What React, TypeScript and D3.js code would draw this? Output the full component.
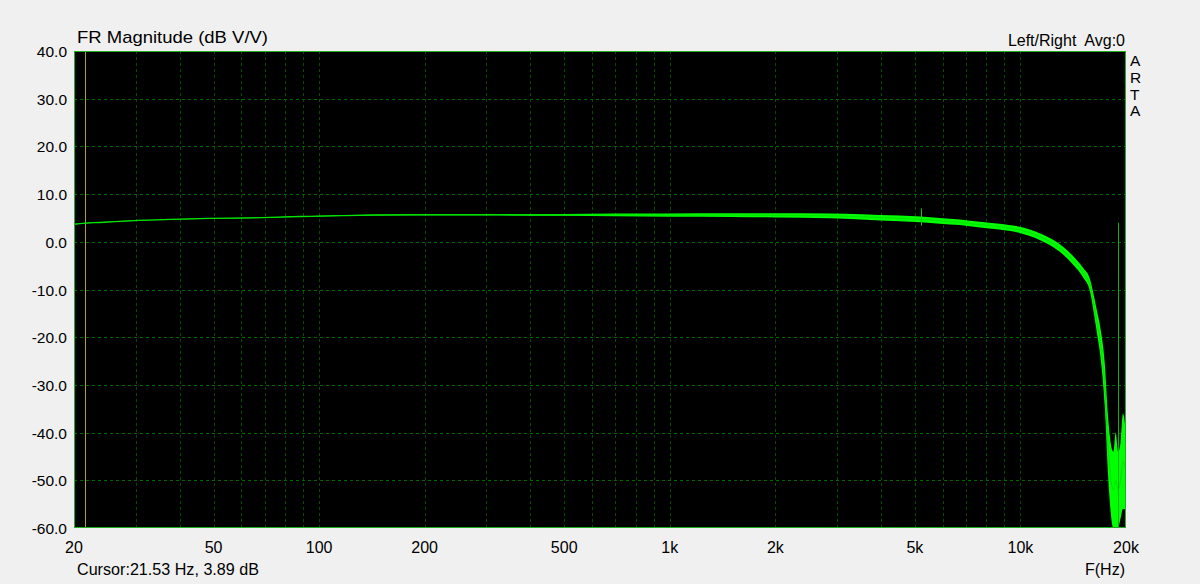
import React from "react";
import * as d3 from "d3";

const freqHz = [20, 21.5, 23.7, 28.9, 37.6, 48.9, 63.5, 88.2, 143, 200, 300, 500, 700, 1000, 1500, 2000, 2860, 3500, 4530, 5200, 5890, 6720, 7660, 8700, 9960, 11350, 12950, 14100, 15100, 15800, 16090, 16500, 16900, 17400, 17750, 18000, 18400, 18700, 19000, 19300, 19600, 20000];
const levelDb = [3.7, 3.9, 4.05, 4.4, 4.7, 4.9, 5.0, 5.3, 5.6, 5.65, 5.65, 5.65, 5.65, 5.6, 5.6, 5.55, 5.45, 5.25, 4.9, 4.7, 4.4, 4.1, 3.6, 3.2, 2.5, 1.1, -1.3, -3.8, -6.5, -9.2, -12.0, -16.5, -21.0, -30.0, -42.0, -48.0, -52.0, -50.0, -52.0, -50.0, -46.0, -48.0];
const spreadDb = [0.05, 0.05, 0.05, 0.05, 0.05, 0.05, 0.05, 0.05, 0.1, 0.1, 0.1, 0.2, 0.3, 0.35, 0.4, 0.45, 0.5, 0.55, 0.6, 0.6, 0.6, 0.6, 0.6, 0.6, 0.65, 0.7, 0.8, 0.9, 1.0, 1.3, 1.7, 2.3, 3.0, 4.5, 6.0, 7.0, 8.0, 10.0, 8.0, 8.0, 10.0, 8.0];

const spikeFreqs = [5200, 18950];
const spikeTopDb = [7.0, 4.0];
const spikeBottomDb = [3.4, -60];

const xTickValues = [20, 50, 100, 200, 500, 1000, 2000, 5000, 10000, 20000];
const xTickLabels = ["20", "50", "100", "200", "500", "1k", "2k", "5k", "10k", "20k"];
const yTickValues = [40, 30, 20, 10, 0, -10, -20, -30, -40, -50, -60];
const cursorFreq = 21.53;

const W = 1200, H = 584;
const L = 74, R = 1126, T = 51, B = 528;
const FONT = "'Liberation Sans', Arial, sans-serif";

export default function App() {
  const x = d3.scaleLog().domain([20, 20000]).range([L, R]);
  const y = d3.scaleLinear().domain([-60, 40]).range([B, T]);

  const gridFreqs: number[] = [];
  [10, 100, 1000].forEach((d) => {
    for (let m = 1; m <= 9; m++) {
      const f = d * m;
      if (f > 20 && f < 20000) gridFreqs.push(f);
    }
  });
  gridFreqs.push(10000);

  const pts = freqHz.map((f, i) => ({ f, v: levelDb[i], s: spreadDb[i] }));
  const area = d3
    .area<{ f: number; v: number; s: number }>()
    .x((d) => x(d.f))
    .y0((d) => y(d.v - d.s))
    .y1((d) => y(d.v + d.s))
    .curve(d3.curveMonotoneX);
  const line = d3
    .line<{ f: number; v: number; s: number }>()
    .x((d) => x(d.f))
    .y((d) => y(d.v))
    .curve(d3.curveMonotoneX);

  return (
    <svg width={W} height={H} style={{ position: "absolute", left: 0, top: 0 }} fontFamily={FONT}>
      <defs>
        <clipPath id="plotclip">
          <rect x={L} y={T} width={R - L} height={B - T} />
        </clipPath>
      </defs>
      <rect x={0} y={0} width={W} height={H} fill="#f0f0f0" />
      <rect x={L} y={T} width={R - L} height={B - T} fill="#000" />
      {yTickValues
        .filter((v) => v > -60 && v < 40)
        .map((v) => (
          <line key={"h" + v} x1={L} x2={R} y1={Math.round(y(v)) + 0.5} y2={Math.round(y(v)) + 0.5} stroke="#006a00" strokeWidth={1} strokeDasharray="3,3" />
        ))}
      {gridFreqs.map((f) => (
        <line key={"v" + f} x1={Math.round(x(f)) + 0.5} x2={Math.round(x(f)) + 0.5} y1={T} y2={B} stroke="#005000" strokeWidth={1} strokeDasharray="3,3" />
      ))}
      <line x1={Math.round(x(cursorFreq)) + 0.5} x2={Math.round(x(cursorFreq)) + 0.5} y1={T} y2={B} stroke="#b0a020" strokeWidth={1} />
      <g clipPath="url(#plotclip)">
        <path d={area(pts) || ""} fill="#00ff00" />
        <path d={line(pts) || ""} fill="none" stroke="#00e600" strokeWidth={1.3} />
        {spikeFreqs.map((f, i) => (
          <line key={"s" + i} x1={Math.round(x(f)) + 0.5} x2={Math.round(x(f)) + 0.5} y1={y(spikeTopDb[i])} y2={y(spikeBottomDb[i])} stroke={i === 0 ? "#00d000" : "#00b400"} strokeWidth={1} />
        ))}
      </g>
      <rect x={L + 0.5} y={T + 0.5} width={R - L - 1} height={B - T - 1} fill="none" stroke="#1fb01f" strokeWidth={1} />
      {yTickValues.map((v) => (
        <text key={"yt" + v} x={67} y={y(v) + 6} textAnchor="end" fontSize={15.5} fill="#000">
          {v.toFixed(1)}
        </text>
      ))}
      {xTickValues.map((f, i) => (
        <text key={"xt" + f} x={x(f)} y={553} textAnchor="middle" fontSize={16} fill="#000">
          {xTickLabels[i]}
        </text>
      ))}
      <text x={77} y={43} fontSize={17} fill="#000" textLength={191} lengthAdjust="spacingAndGlyphs">
        FR Magnitude (dB V/V)
      </text>
      <text x={1125} y={46} textAnchor="end" fontSize={16} fill="#000" style={{ whiteSpace: "pre" }}>
        {"Left/Right  Avg:0"}
      </text>
      {["A", "R", "T", "A"].map((c, i) => (
        <text key={"arta" + i} x={1130} y={66 + i * 16.8} fontSize={15.5} fill="#000">
          {c}
        </text>
      ))}
      <text x={77} y={575} fontSize={16} fill="#000" textLength={182} lengthAdjust="spacingAndGlyphs">
        Cursor:21.53 Hz, 3.89 dB
      </text>
      <text x={1125} y={575} textAnchor="end" fontSize={16} fill="#000">
        F(Hz)
      </text>
    </svg>
  );
}
